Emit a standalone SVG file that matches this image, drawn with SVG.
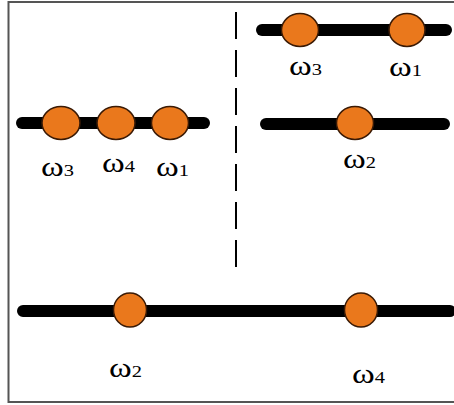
<svg xmlns="http://www.w3.org/2000/svg" width="454" height="405" viewBox="0 0 454 405">
  <style>
    .frame { fill: #fff; stroke: #555; stroke-width: 2; }
    .rail { stroke: #000; stroke-width: 12; stroke-linecap: round; fill: none; }
    .divider { stroke: #000; stroke-width: 2; stroke-dasharray: 27 11; fill: none; }
    .bead { fill: #EA781C; stroke: #3a1a05; stroke-width: 1.5; }
    .lbl { font-family: "Liberation Serif", "Times New Roman", serif; font-size: 27px; fill: #000; }
    .sub { font-size: 16px; }
  </style>

  <rect class="frame" x="8.5" y="2" width="450" height="400"/>

  <g id="connectors">
    <line class="divider" x1="236" y1="12" x2="236" y2="272"/>
    <line id="rail-top-right" class="rail" x1="262" y1="30" x2="446" y2="30"/>
    <line id="rail-left" class="rail" x1="22" y1="123" x2="204" y2="123"/>
    <line id="rail-mid-right" class="rail" x1="266" y1="124" x2="444" y2="124"/>
    <line id="rail-bottom" class="rail" x1="23" y1="311" x2="450" y2="311"/>
  </g>

  <!-- upper right: ω3, ω1 -->
  <g id="tr-w3">
    <ellipse class="bead" cx="300" cy="30" rx="18.5" ry="16.5"/>
    <text class="lbl" transform="translate(289 75) scale(1.28 1)">ω<tspan class="sub">3</tspan></text>
  </g>
  <g id="tr-w1">
    <ellipse class="bead" cx="407" cy="30" rx="18" ry="16.5"/>
    <text class="lbl" transform="translate(389 76) scale(1.28 1)">ω<tspan class="sub">1</tspan></text>
  </g>

  <!-- left row: ω3, ω4, ω1 -->
  <g id="l-w3">
    <ellipse class="bead" cx="61" cy="123" rx="19" ry="16.5"/>
    <text class="lbl" transform="translate(41 176) scale(1.28 1)">ω<tspan class="sub">3</tspan></text>
  </g>
  <g id="l-w4">
    <ellipse class="bead" cx="116" cy="123" rx="19" ry="16.5"/>
    <text class="lbl" transform="translate(102 172) scale(1.28 1)">ω<tspan class="sub">4</tspan></text>
  </g>
  <g id="l-w1">
    <ellipse class="bead" cx="170" cy="123" rx="18.5" ry="16.5"/>
    <text class="lbl" transform="translate(156 176) scale(1.28 1)">ω<tspan class="sub">1</tspan></text>
  </g>

  <!-- middle right: ω2 -->
  <g id="mr-w2">
    <ellipse class="bead" cx="355" cy="123" rx="18.5" ry="16.5"/>
    <text class="lbl" transform="translate(343 168) scale(1.28 1)">ω<tspan class="sub">2</tspan></text>
  </g>

  <!-- bottom: ω2, ω4 -->
  <g id="b-w2">
    <ellipse class="bead" cx="130" cy="310" rx="16.5" ry="17"/>
    <text class="lbl" transform="translate(109 377) scale(1.28 1)">ω<tspan class="sub">2</tspan></text>
  </g>
  <g id="b-w4">
    <ellipse class="bead" cx="361" cy="310" rx="16.5" ry="17"/>
    <text class="lbl" transform="translate(352 383) scale(1.28 1)">ω<tspan class="sub">4</tspan></text>
  </g>
</svg>
